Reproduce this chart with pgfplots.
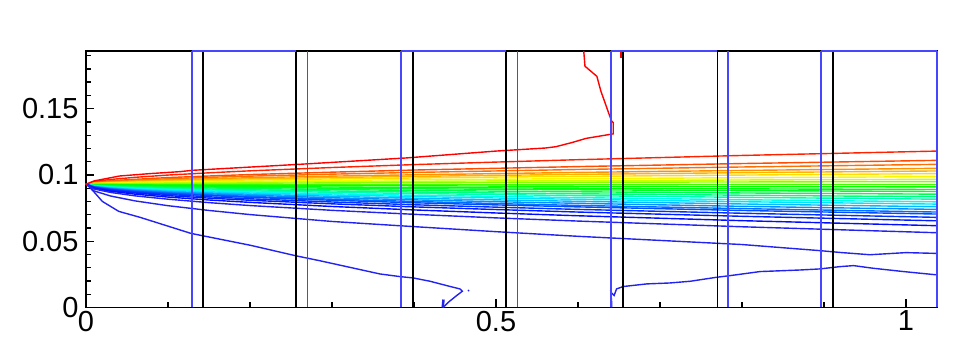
\documentclass[border=0pt]{standalone}
\usepackage{pgfplots}
\pgfplotsset{compat=1.18}
\usepackage{fontspec}
\setmainfont{Liberation Sans}
\definecolor{c0}{Hsb}{0,1,1}
\definecolor{c1}{Hsb}{8,1,1}
\definecolor{c2}{Hsb}{18,1,1}
\definecolor{c3}{Hsb}{26,1,1}
\definecolor{c4}{Hsb}{34,1,1}
\definecolor{c5}{Hsb}{42,1,1}
\definecolor{c6}{Hsb}{52,1,1}
\definecolor{c7}{Hsb}{60,1,0.97}
\definecolor{c8}{Hsb}{72,1,1}
\definecolor{c9}{Hsb}{88,1,1}
\definecolor{c10}{Hsb}{105,1,1}
\definecolor{c11}{Hsb}{118,1,1}
\definecolor{c12}{Hsb}{122,1,1}
\definecolor{c13}{Hsb}{128,1,1}
\definecolor{c14}{Hsb}{138,1,1}
\definecolor{c15}{Hsb}{150,1,1}
\definecolor{c16}{Hsb}{162,1,1}
\definecolor{c17}{Hsb}{175,1,1}
\definecolor{c18}{Hsb}{186,1,1}
\definecolor{c19}{Hsb}{196,1,1}
\definecolor{c20}{Hsb}{206,1,1}
\definecolor{c21}{Hsb}{214,1,1}
\definecolor{c22}{Hsb}{222,1,1}
\definecolor{c23}{Hsb}{228,1,1}
\definecolor{c24}{Hsb}{233,1,1}
\definecolor{c25}{Hsb}{237,1,1}
\definecolor{cblue}{RGB}{35,35,240}
\definecolor{gridblue}{RGB}{70,70,255}
\begin{document}
\begin{tikzpicture}
\useasboundingbox (-86pt,-29.5pt) rectangle (867pt,307.5pt);
\begin{axis}[
  at={(0,0)}, anchor=south west,
  scale only axis, width=851pt, height=256.5pt,
  xmin=0, xmax=1.0378, ymin=0, ymax=0.1935,
  xtick={0,0.5,1}, xticklabels={0,0.5,1},
  ytick={0,0.05,0.1,0.15}, yticklabels={0,0.05,0.1,0.15},
  minor xtick={0.1,0.2,0.3,0.4,0.6,0.7,0.8,0.9},
  minor ytick={0.01,0.02,0.03,0.04,0.06,0.07,0.08,0.09,0.11,0.12,0.13,0.14,0.16,0.17,0.18,0.19},
  tick align=inside, xtick pos=left, ytick pos=left,
  major tick length=8pt, minor tick length=5pt,
  tick style={black, line width=1.3pt},
  axis line style={black, line width=1.5pt},
  tick label style={font=\fontsize{29}{34}\selectfont},
  yticklabel style={xshift=-4pt},
  clip=false,
  every axis plot/.append style={line width=1.4pt, mark=none},
]
% band contours
\addplot[c1] coordinates {(0,0.093) (0.01,0.0950) (0.03,0.0966) (0.06,0.0982) (0.1,0.0999) (0.15,0.1016) (0.2,0.1031) (0.3,0.1056) (0.4,0.1078) (0.5,0.1097) (0.6,0.1115) (0.8,0.1147) (1.0378,0.118)};
\addplot[c2] coordinates {(0,0.093) (0.01,0.0944) (0.03,0.0956) (0.06,0.0967) (0.1,0.0980) (0.15,0.0992) (0.2,0.1003) (0.3,0.1021) (0.4,0.1037) (0.5,0.1050) (0.6,0.1063) (0.8,0.1086) (1.0378,0.111)};
\addplot[c3] coordinates {(0,0.093) (0.01,0.0942) (0.03,0.0951) (0.06,0.0961) (0.1,0.0971) (0.15,0.0982) (0.2,0.0991) (0.3,0.1006) (0.4,0.1019) (0.5,0.1030) (0.6,0.1041) (0.8,0.1060) (1.0378,0.108)};
\addplot[c4] coordinates {(0,0.093) (0.01,0.0939) (0.03,0.0947) (0.06,0.0955) (0.1,0.0963) (0.15,0.0971) (0.2,0.0979) (0.3,0.0991) (0.4,0.1001) (0.5,0.1010) (0.6,0.1019) (0.8,0.1034) (1.0378,0.105)};
\addplot[c5] coordinates {(0,0.093) (0.01,0.0938) (0.03,0.0944) (0.06,0.0951) (0.1,0.0958) (0.15,0.0965) (0.2,0.0970) (0.3,0.0981) (0.4,0.0989) (0.5,0.0997) (0.6,0.1004) (0.8,0.1017) (1.0378,0.103)};
\addplot[c6] coordinates {(0,0.093) (0.01,0.0936) (0.03,0.0941) (0.06,0.0947) (0.1,0.0952) (0.15,0.0958) (0.2,0.0962) (0.3,0.0970) (0.4,0.0977) (0.5,0.0984) (0.6,0.0989) (0.8,0.0999) (1.0378,0.101)};
\addplot[c7] coordinates {(0,0.093) (0.01,0.0934) (0.03,0.0938) (0.06,0.0942) (0.1,0.0946) (0.15,0.0950) (0.2,0.0953) (0.3,0.0959) (0.4,0.0964) (0.5,0.0968) (0.6,0.0972) (0.8,0.0979) (1.0378,0.0987)};
\addplot[c8] coordinates {(0,0.093) (0.01,0.0933) (0.03,0.0935) (0.06,0.0938) (0.1,0.0940) (0.15,0.0943) (0.2,0.0945) (0.3,0.0949) (0.4,0.0952) (0.5,0.0955) (0.6,0.0957) (0.8,0.0962) (1.0378,0.0967)};
\addplot[c9] coordinates {(0,0.093) (0.01,0.0932) (0.03,0.0933) (0.06,0.0934) (0.1,0.0936) (0.15,0.0937) (0.2,0.0938) (0.3,0.0940) (0.4,0.0942) (0.5,0.0943) (0.6,0.0945) (0.8,0.0947) (1.0378,0.095)};
\addplot[c10] coordinates {(0,0.093) (1.0378,0.093)};
\addplot[c11] coordinates {(0,0.093) (0.01,0.0928) (0.03,0.0927) (0.06,0.0925) (0.1,0.0924) (0.15,0.0922) (0.2,0.0921) (0.3,0.0919) (0.4,0.0918) (0.5,0.0916) (0.6,0.0915) (0.8,0.0912) (1.0378,0.091)};
\addplot[c12] coordinates {(0,0.093) (0.01,0.0926) (0.03,0.0923) (0.06,0.0920) (0.1,0.0918) (0.15,0.0915) (0.2,0.0912) (0.3,0.0909) (0.4,0.0905) (0.5,0.0902) (0.6,0.0900) (0.8,0.0895) (1.0378,0.089)};
\addplot[c13] coordinates {(0,0.093) (0.01,0.0925) (0.03,0.0921) (0.06,0.0917) (0.1,0.0913) (0.15,0.0909) (0.2,0.0906) (0.3,0.0900) (0.4,0.0896) (0.5,0.0892) (0.6,0.0888) (0.8,0.0882) (1.0378,0.0875)};
\addplot[c14] coordinates {(0,0.093) (0.01,0.0923) (0.03,0.0917) (0.06,0.0912) (0.1,0.0907) (0.15,0.0902) (0.2,0.0897) (0.3,0.0890) (0.4,0.0883) (0.5,0.0878) (0.6,0.0873) (0.8,0.0864) (1.0378,0.0855)};
\addplot[c15] coordinates {(0,0.093) (0.01,0.0921) (0.03,0.0914) (0.06,0.0907) (0.1,0.0901) (0.15,0.0894) (0.2,0.0888) (0.3,0.0879) (0.4,0.0871) (0.5,0.0864) (0.6,0.0858) (0.8,0.0847) (1.0378,0.0835)};
\addplot[c16] coordinates {(0,0.093) (0.01,0.0919) (0.03,0.0911) (0.06,0.0903) (0.1,0.0895) (0.15,0.0887) (0.2,0.0880) (0.3,0.0869) (0.4,0.0860) (0.5,0.0852) (0.6,0.0844) (0.8,0.0831) (1.0378,0.0817)};
\addplot[c17] coordinates {(0,0.093) (0.01,0.0917) (0.03,0.0907) (0.06,0.0898) (0.1,0.0889) (0.15,0.0880) (0.2,0.0872) (0.3,0.0858) (0.4,0.0847) (0.5,0.0838) (0.6,0.0829) (0.8,0.0813) (1.0378,0.0797)};
\addplot[c18] coordinates {(0,0.093) (0.01,0.0915) (0.03,0.0905) (0.06,0.0894) (0.1,0.0884) (0.15,0.0873) (0.2,0.0864) (0.3,0.0849) (0.4,0.0837) (0.5,0.0826) (0.6,0.0816) (0.8,0.0798) (1.0378,0.078)};
\addplot[c19] coordinates {(0,0.093) (0.01,0.0913) (0.03,0.0901) (0.06,0.0889) (0.1,0.0877) (0.15,0.0865) (0.2,0.0855) (0.3,0.0839) (0.4,0.0824) (0.5,0.0812) (0.6,0.0801) (0.8,0.0781) (1.0378,0.076)};
\addplot[c20] coordinates {(0,0.093) (0.01,0.0911) (0.03,0.0898) (0.06,0.0884) (0.1,0.0871) (0.15,0.0858) (0.2,0.0847) (0.3,0.0828) (0.4,0.0812) (0.5,0.0798) (0.6,0.0786) (0.8,0.0763) (1.0378,0.074)};
\addplot[c21] coordinates {(0,0.093) (0.01,0.0909) (0.03,0.0894) (0.06,0.0879) (0.1,0.0865) (0.15,0.0850) (0.2,0.0838) (0.3,0.0817) (0.4,0.0800) (0.5,0.0784) (0.6,0.0770) (0.8,0.0746) (1.0378,0.072)};
\addplot[c22] coordinates {(0,0.093) (0.01,0.0908) (0.03,0.0892) (0.06,0.0876) (0.1,0.0860) (0.15,0.0845) (0.2,0.0831) (0.3,0.0809) (0.4,0.0790) (0.5,0.0774) (0.6,0.0759) (0.8,0.0732) (1.0378,0.0705)};
\addplot[c23] coordinates {(0,0.093) (0.01,0.0906) (0.03,0.0888) (0.06,0.0870) (0.1,0.0853) (0.15,0.0835) (0.2,0.0820) (0.3,0.0796) (0.4,0.0775) (0.5,0.0757) (0.6,0.0740) (0.8,0.0711) (1.0378,0.068)};
\addplot[c24] coordinates {(0,0.093) (0.01,0.0903) (0.03,0.0883) (0.06,0.0864) (0.1,0.0844) (0.15,0.0825) (0.2,0.0809) (0.3,0.0782) (0.4,0.0759) (0.5,0.0739) (0.6,0.0720) (0.8,0.0688) (1.0378,0.0654)};
\addplot[c25] coordinates {(0,0.093) (0.01,0.0899) (0.03,0.0877) (0.06,0.0855) (0.1,0.0833) (0.15,0.0811) (0.2,0.0793) (0.3,0.0762) (0.4,0.0736) (0.5,0.0713) (0.6,0.0692) (0.8,0.0655) (1.0378,0.0617)};
\addplot[cblue] coordinates {(0,0.093) (0.01,0.0894) (0.03,0.0868) (0.06,0.0842) (0.1,0.0817) (0.15,0.0791) (0.2,0.0769) (0.3,0.0733) (0.4,0.0703) (0.5,0.0676) (0.6,0.0652) (0.8,0.0609) (1.0378,0.0564)};
\addplot[cblue] coordinates {(0,0.093) (0.01,0.0879) (0.03,0.0841) (0.06,0.0804) (0.1,0.0768) (0.15,0.0732) (0.2,0.0701) (0.3,0.0649) (0.4,0.0610) (0.5,0.0572) (0.6,0.0537) (0.8,0.0475) (0.895,0.0429) (0.92,0.0415) (0.956,0.0398) (1.0,0.0414) (1.0378,0.0408)};
% lowest contour reaching the bottom
\addplot[cblue] coordinates {(0.004,0.091) (0.01,0.087) (0.02,0.080) (0.04,0.0725) (0.066,0.068) (0.128,0.0559) (0.2,0.047) (0.256,0.039) (0.285,0.0353) (0.3585,0.0253) (0.383,0.0233) (0.399,0.0223) (0.4195,0.0198) (0.44,0.0165) (0.456,0.014) (0.459,0.0123) (0.452,0.009) (0.446,0.006) (0.442,0.004) (0.437,0.001) (0.435,0.0)};
\addplot[cblue, line width=2.5pt] coordinates {(0.435,0.0) (0.436,0.006)};
\addplot[cblue] coordinates {(0.466,0.0133) (0.467,0.0123)};
% bottom right contour
\addplot[cblue] coordinates {(0.641,0.0) (0.641,0.004) (0.640,0.0115) (0.644,0.009) (0.647,0.014) (0.655,0.0158) (0.684,0.0178) (0.712,0.0185) (0.737,0.0198) (0.769,0.0228) (0.785,0.024) (0.822,0.0271) (0.871,0.0283) (0.895,0.0291) (0.919,0.0308) (0.936,0.0316) (0.96,0.0296) (0.997,0.0271) (1.0378,0.0246)};
% top red contour turning up
\addplot[c0] coordinates {(0,0.093) (0.01,0.0955) (0.041,0.0992) (0.078,0.101) (0.115,0.1025) (0.13,0.1035) (0.26,0.108) (0.39,0.1128) (0.5,0.118) (0.56,0.1203) (0.573,0.1213) (0.593,0.1245) (0.61,0.1276) (0.643,0.131) (0.643,0.1395) (0.641,0.1406) (0.638,0.1456) (0.633,0.1544) (0.628,0.163) (0.623,0.1744) (0.6085,0.182) (0.607,0.1935)};
\addplot[c0, line width=2pt] coordinates {(0.653,0.1935) (0.653,0.188)};
% mesh block lines
\addplot[black, ycomb, line width=1.6pt] coordinates {(0.143,0.1935) (0.256,0.1935) (0.399,0.1935) (0.512,0.1935) (0.655,0.1935) (0.770,0.1935) (0.911,0.1935)};
\addplot[gridblue, ycomb, line width=1.6pt] coordinates {(0.129,0.1935) (0.270,0.1935) (0.384,0.1935) (0.526,0.1935) (0.640,0.1935) (0.783,0.1935) (0.896,0.1935) (1.0378,0.1935)};
\addplot[gridblue, line width=1.6pt] coordinates {(0.129,0.1935) (0.256,0.1935)};
\addplot[gridblue, line width=1.6pt] coordinates {(0.384,0.1935) (0.512,0.1935)};
\addplot[gridblue, line width=1.6pt] coordinates {(0.640,0.1935) (0.770,0.1935)};
\addplot[gridblue, line width=1.6pt] coordinates {(0.896,0.1935) (1.0378,0.1935)};
\end{axis}
\end{tikzpicture}
\end{document}
